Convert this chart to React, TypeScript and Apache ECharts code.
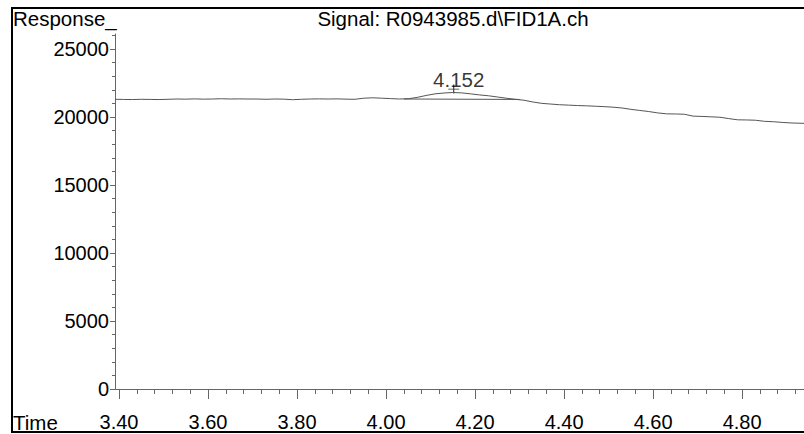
import React, { useEffect, useRef } from "react";
import * as echarts from "echarts";

// ---- data ----
const TIMES = [
  3.391, 3.41, 3.43, 3.45, 3.47, 3.49, 3.51, 3.53, 3.55, 3.57, 3.59, 3.61, 3.63, 3.65, 3.67, 3.69,
  3.71, 3.73, 3.75, 3.77, 3.79, 3.81, 3.83, 3.85, 3.87, 3.89, 3.91, 3.93, 3.95, 3.97, 3.99,
  4.01, 4.03, 4.05, 4.07, 4.09, 4.11, 4.13, 4.15, 4.17, 4.19, 4.21, 4.23, 4.25, 4.27, 4.29,
  4.31, 4.33, 4.35, 4.37, 4.39, 4.41, 4.43, 4.45, 4.47, 4.49, 4.51, 4.53, 4.55, 4.57, 4.59,
  4.61, 4.63, 4.65, 4.67, 4.69, 4.71, 4.73, 4.75, 4.77, 4.79, 4.81, 4.83, 4.85, 4.87, 4.89,
  4.91, 4.93, 4.94,
];
const RESPONSE = [
  21300, 21290, 21280, 21300, 21290, 21280, 21300, 21320, 21310, 21330, 21310, 21320, 21340, 21320, 21330, 21320,
  21320, 21300, 21320, 21310, 21270, 21300, 21320, 21330, 21320, 21330, 21310, 21300, 21380, 21410, 21380,
  21350, 21320, 21340, 21440, 21580, 21700, 21760, 21800, 21770, 21700, 21620, 21560, 21470, 21380, 21300,
  21230, 21100, 21000, 20950, 20900, 20870, 20840, 20820, 20790, 20760, 20720, 20660, 20560, 20480, 20400,
  20300, 20230, 20220, 20200, 20060, 20040, 20010, 19980, 19880, 19790, 19780, 19760, 19680, 19650, 19600,
  19560, 19540, 19530,
];
const BASELINE_TIMES = [4.04, 4.3];
const BASELINE_VALUES = [21320, 21290];
const PEAK_TIME = 4.152;
const PEAK_MARK_VALUE = 22050;
const PEAK_LABEL = "4.152";

const X_MAJOR = [3.4, 3.6, 3.8, 4.0, 4.2, 4.4, 4.6, 4.8];
const X_MINOR = [
  3.44, 3.48, 3.52, 3.56, 3.64, 3.68, 3.72, 3.76, 3.84, 3.88, 3.92, 3.96, 4.04, 4.08, 4.12, 4.16,
  4.24, 4.28, 4.32, 4.36, 4.44, 4.48, 4.52, 4.56, 4.64, 4.68, 4.72, 4.76, 4.84, 4.88, 4.92,
];
const Y_MAJOR = [0, 5000, 10000, 15000, 20000, 25000];
const Y_MINOR = [
  1000, 2000, 3000, 4000, 6000, 7000, 8000, 9000, 11000, 12000, 13000, 14000,
  16000, 17000, 18000, 19000, 21000, 22000, 23000, 24000, 26000,
];
const X_MIN = 3.391;
const X_MAX = 4.939;
const Y_MIN = 0;
const Y_MAX = 26100;

const TITLE = "Signal: R0943985.d\\FID1A.ch";
const Y_NAME = "Response_";
const X_NAME = "Time";

const FONT = '"Liberation Sans", Arial, sans-serif';
const FS = 20;
const FS_TEXT = 20.5;
const AXIS_COLOR = "#666";

export default function App() {
  const ref = useRef<HTMLDivElement>(null);
  useEffect(() => {
    if (!ref.current) return;
    const chart = echarts.init(ref.current, undefined, { renderer: "svg" });
    const lineData = TIMES.map((t, i) => [t, RESPONSE[i]]);
    const baseData = BASELINE_TIMES.map((t, i) => [t, BASELINE_VALUES[i]]);
    const minorAxisX = {
      type: "value",
      min: X_MIN,
      max: X_MAX,
      position: "bottom",
      offset: 11,
      axisLine: { show: false },
      axisTick: { show: true, customValues: X_MINOR, length: 5, lineStyle: { color: AXIS_COLOR } },
      axisLabel: { show: false },
      splitLine: { show: false },
    };
    const minorAxisY = {
      type: "value",
      min: Y_MIN,
      max: Y_MAX,
      position: "left",
      axisLine: { show: false },
      axisTick: { show: true, customValues: Y_MINOR, length: 3, lineStyle: { color: AXIS_COLOR } },
      axisLabel: { show: false },
      splitLine: { show: false },
    };
    chart.setOption({
      animation: false,
      backgroundColor: "#fff",
      grid: { left: 115, right: 0, top: 34, bottom: 45, containLabel: false },
      xAxis: [
        {
          type: "value",
          min: X_MIN,
          max: X_MAX,
          position: "bottom",
          offset: 11,
          axisLine: { show: true, lineStyle: { color: AXIS_COLOR, width: 1 } },
          axisTick: { show: true, customValues: X_MAJOR, length: 10, lineStyle: { color: AXIS_COLOR } },
          axisLabel: {
            customValues: X_MAJOR,
            formatter: (v: number) => v.toFixed(2),
            color: "#000",
            fontSize: FS,
            fontFamily: FONT,
            margin: 12,
          },
          splitLine: { show: false },
        },
        minorAxisX,
      ],
      yAxis: [
        {
          type: "value",
          min: Y_MIN,
          max: Y_MAX,
          position: "left",
          axisLine: { show: true, lineStyle: { color: AXIS_COLOR, width: 1 } },
          axisTick: { show: true, customValues: Y_MAJOR, length: 5, lineStyle: { color: AXIS_COLOR } },
          axisLabel: {
            customValues: Y_MAJOR,
            formatter: (v: number) => String(v),
            color: "#000",
            fontSize: FS,
            fontFamily: FONT,
            margin: 6,
          },
          splitLine: { show: false },
        },
        minorAxisY,
      ],
      series: [
        {
          type: "line",
          data: lineData,
          showSymbol: false,
          lineStyle: { color: "#555", width: 1 },
          xAxisIndex: 0,
          yAxisIndex: 0,
        },
        {
          type: "line",
          data: baseData,
          showSymbol: false,
          lineStyle: { color: "#555", width: 1 },
          xAxisIndex: 0,
          yAxisIndex: 0,
        },
        {
          type: "scatter",
          data: [[PEAK_TIME, PEAK_MARK_VALUE]],
          symbol: "path://M0,4H12M6,0V8",
          symbolSize: [11, 9],
          itemStyle: { color: "transparent", borderColor: "#000", borderWidth: 1 },
          label: {
            show: true,
            position: "top",
            distance: 0,
            offset: [5, 6],
            formatter: PEAK_LABEL,
            color: "#000",
            textBorderWidth: 0,
            fontSize: FS_TEXT,
            fontFamily: FONT,
          },
          xAxisIndex: 0,
          yAxisIndex: 0,
        },
      ],
      graphic: [
        {
          type: "line",
          shape: { x1: 11, y1: 8, x2: 1000, y2: 8 },
          style: { stroke: "#000", lineWidth: 2 },
          silent: true,
        },
        {
          type: "line",
          shape: { x1: 11, y1: 432, x2: 1000, y2: 432 },
          style: { stroke: "#000", lineWidth: 2 },
          silent: true,
        },
        {
          type: "line",
          shape: { x1: 12, y1: 7, x2: 12, y2: 433 },
          style: { stroke: "#000", lineWidth: 2 },
          silent: true,
        },
        {
          type: "text",
          x: 13,
          y: 18,
          style: { text: Y_NAME, fill: "#000", font: `${FS_TEXT}px ${FONT}`, textAlign: "left", textVerticalAlign: "middle" },
        },
        {
          type: "text",
          x: 453,
          y: 18,
          style: { text: TITLE, fill: "#000", font: `${FS_TEXT}px ${FONT}`, textAlign: "center", textVerticalAlign: "middle" },
        },
        {
          type: "text",
          x: 13,
          y: 422,
          style: { text: X_NAME, fill: "#000", font: `${FS_TEXT}px ${FONT}`, textAlign: "left", textVerticalAlign: "middle" },
        },
      ],
    });
    return () => chart.dispose();
  }, []);
  return (
    <div
      ref={ref}
      style={{ position: "fixed", left: 0, top: 0, width: 804, height: 434, background: "#fff", overflow: "hidden" }}
    />
  );
}
